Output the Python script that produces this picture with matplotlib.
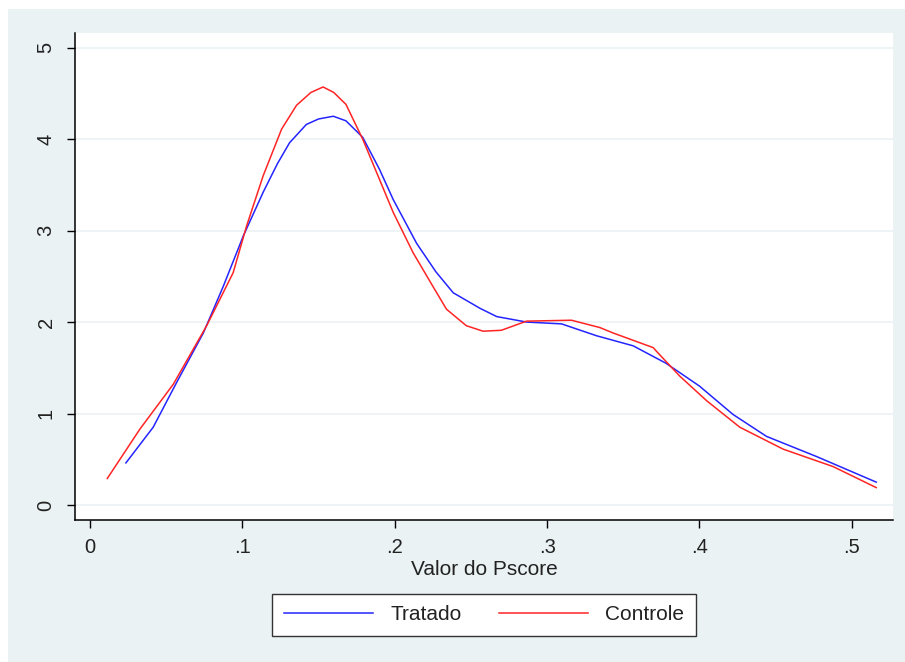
import matplotlib
matplotlib.use("Agg")
import matplotlib.pyplot as plt
from matplotlib.patches import Rectangle

# Densidade do pscore
x_tratado = [0.0236, 0.0415, 0.0569, 0.0744, 0.0875, 0.1006, 0.1137, 0.123, 0.131, 0.142,
             0.150, 0.1597, 0.168, 0.179, 0.190, 0.199, 0.2144, 0.227, 0.2384, 0.256, 0.2669,
             0.2865, 0.3095, 0.3325, 0.3565, 0.378, 0.400, 0.422, 0.444, 0.4768, 0.516]
y_tratado = [0.46, 0.85, 1.34, 1.88, 2.39, 2.94, 3.42, 3.73, 3.96, 4.16,
             4.22, 4.25, 4.20, 4.02, 3.67, 3.34, 2.86, 2.55, 2.32, 2.15, 2.06,
             2.00, 1.98, 1.85, 1.74, 1.55, 1.30, 0.99, 0.75, 0.53, 0.25]

x_controle = [0.0114, 0.0328, 0.0547, 0.0766, 0.094, 0.1028, 0.1137, 0.1258, 0.1356,
              0.145, 0.153, 0.160, 0.168, 0.179, 0.190, 0.199, 0.212, 0.224, 0.234, 0.247,
              0.258, 0.270, 0.2865, 0.316, 0.3346, 0.3434, 0.3697, 0.3718, 0.387, 0.4047,
              0.4265, 0.455, 0.4877, 0.516]
y_controle = [0.29, 0.83, 1.32, 1.96, 2.54, 3.05, 3.60, 4.11, 4.37,
              4.51, 4.57, 4.51, 4.38, 4.00, 3.56, 3.20, 2.76, 2.42, 2.14, 1.96,
              1.90, 1.91, 2.01, 2.02, 1.94, 1.88, 1.72, 1.68, 1.41, 1.14,
              0.85, 0.61, 0.42, 0.19]

xticks = [0, 0.1, 0.2, 0.3, 0.4, 0.5]
xtick_labels = ["0", ".1", ".2", ".3", ".4", ".5"]
yticks = [0, 1, 2, 3, 4, 5]

plt.rcParams["font.family"] = ["Liberation Sans", "DejaVu Sans"]

bg = "#eaf2f3"
fig = plt.figure(figsize=(9.05, 6.62), dpi=100)
fig.patch.set_facecolor("white")
fig.patches.append(Rectangle((8 / 905, 0), 1, 653 / 662, transform=fig.transFigure,
                             facecolor=bg, edgecolor="none", zorder=-10))

ax = fig.add_axes([75 / 905, 1 - 520 / 662, 818 / 905, 487 / 662])
ax.set_facecolor("white")

ax.plot(x_tratado, y_tratado, color="#2424ff", lw=1.1, label="Tratado")
ax.plot(x_controle, y_controle, color="#ff2424", lw=1.1, label="Controle")

ax.set_xlim(-0.0098, 0.527)
ax.set_ylim(-0.164, 5.16)
ax.set_xticks(xticks)
ax.set_xticklabels(xtick_labels)
ax.set_yticks(yticks)
ax.set_yticklabels([str(v) for v in yticks], rotation=90, va="center")

ax.grid(axis="y", color="#edf3f4", lw=1.3)
ax.set_axisbelow(True)
for s in ["top", "right"]:
    ax.spines[s].set_visible(False)
for s in ["left", "bottom"]:
    ax.spines[s].set_linewidth(1.1)
    ax.spines[s].set_color("black")
ax.tick_params(axis="both", length=6, width=1, color="black", labelsize=14.5,
               labelcolor="#222222")
ax.tick_params(axis="y", pad=8)
ax.tick_params(axis="x", pad=7)

ax.set_xlabel("Valor do Pscore", fontsize=15, color="#222222", labelpad=2)

fig.legend(loc="center", bbox_to_anchor=(484 / 905, 1 - 615 / 662), ncol=2,
           fontsize=15, frameon=True, fancybox=False, edgecolor="#333333",
           framealpha=1, handlelength=4.3, handletextpad=0.8, columnspacing=1.8,
           borderpad=0.55, labelcolor="#222222")

fig.savefig("out.png", dpi=100, facecolor=fig.get_facecolor())
